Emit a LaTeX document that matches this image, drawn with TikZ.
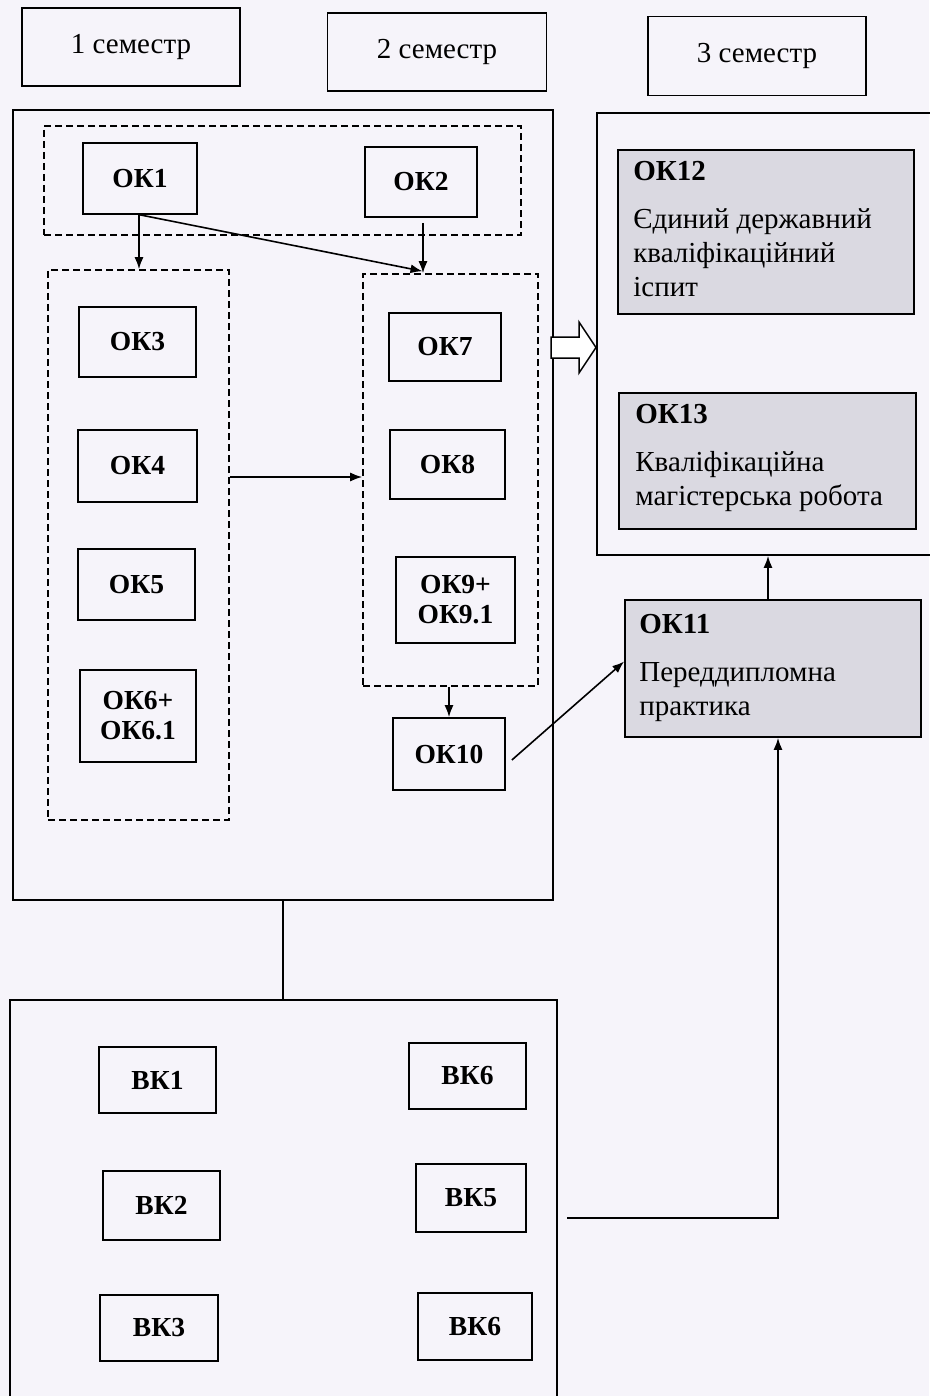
\documentclass[tikz,border=0pt]{standalone}
\usepackage{fontspec}
\setmainfont{Liberation Serif}
\usetikzlibrary{arrows.meta}
\definecolor{bgc}{HTML}{F6F4FA}
\definecolor{boxgray}{HTML}{DAD9E1}
\tikzset{
  box/.style={draw, line width=1.7pt, inner sep=0pt, align=center},
  okbox/.style={box, font=\bfseries\fontsize{27.5}{30}\selectfont},
  sem/.style={box, font=\fontsize{29}{32}\selectfont},
  frame/.style={draw, line width=1.7pt, inner sep=0pt},
  grp/.style={draw, line width=1.6pt, dash pattern=on 7pt off 4pt, inner sep=0pt},
  graybox/.style={draw, line width=1.7pt, fill=boxgray, inner sep=0pt},
  gtext/.style={anchor=north west, align=left, inner sep=0pt, font=\fontsize{29}{34}\selectfont},
  arr/.style={line width=1.6pt, -{Latex[length=12pt,width=9pt]}},
  conn/.style={line width=1.6pt}
}
\begin{document}
\begin{tikzpicture}[x=1pt,y=-1pt]
\useasboundingbox (0,0) rectangle (929,1396);
\fill[bgc] (0,0) rectangle (929,1396);

% semester headers
\node[sem, minimum width=218pt, minimum height=78pt] (s1) at (131,47) {1 семестр};
\node[sem, minimum width=219pt, minimum height=78pt] (s2) at (437,52) {2 семестр};
\node[sem, minimum width=218pt, minimum height=79pt] (s3) at (757,56) {3 семестр};

% frames
\node[frame, minimum width=540pt, minimum height=790pt] (okframe) at (283,505) {};
\node[frame, minimum width=340pt, minimum height=442pt] (rframe) at (767,334) {};
\node[frame, minimum width=547pt, minimum height=430pt] (vkframe) at (283.5,1215) {};

% dashed groups
\node[grp, minimum width=477pt, minimum height=109pt] (g1) at (282.5,180.5) {};
\node[grp, minimum width=181pt, minimum height=550pt] (g2) at (138.5,545) {};
\node[grp, minimum width=175pt, minimum height=412pt] (g3) at (450.5,480) {};

% OK boxes
\node[okbox, minimum width=114pt, minimum height=71pt] (ok1) at (140,178.5) {ОК1};
\node[okbox, minimum width=112pt, minimum height=70pt] (ok2) at (421,182) {ОК2};
\node[okbox, minimum width=117pt, minimum height=70pt] (ok3) at (137.5,342) {ОК3};
\node[okbox, minimum width=119pt, minimum height=72pt] (ok4) at (137.5,466) {ОК4};
\node[okbox, minimum width=117pt, minimum height=71pt] (ok5) at (136.5,584.5) {ОК5};
\node[okbox, minimum width=116pt, minimum height=92pt] (ok6) at (138,716) {ОК6+\\ОК6.1};
\node[okbox, minimum width=112pt, minimum height=68pt] (ok7) at (445,347) {ОК7};
\node[okbox, minimum width=115pt, minimum height=69pt] (ok8) at (447.5,464.5) {ОК8};
\node[okbox, minimum width=119pt, minimum height=86pt] (ok9) at (455.5,600) {ОК9+\\ОК9.1};
\node[okbox, minimum width=112pt, minimum height=72pt] (ok10) at (449,754) {ОК10};

% gray boxes
\node[graybox, minimum width=296pt, minimum height=164pt] (ok12) at (766,232) {};
\node[gtext] at ([xshift=16pt,yshift=-12pt]ok12.north west) {\textbf{ОК12}\\[14pt]Єдиний державний\\кваліфікаційний\\іспит};
\node[graybox, minimum width=297pt, minimum height=136pt] (ok13) at (767.5,461) {};
\node[gtext] at ([xshift=17pt,yshift=-12pt]ok13.north west) {\textbf{ОК13}\\[14pt]Кваліфікаційна\\магістерська робота};
\node[graybox, minimum width=296pt, minimum height=137pt] (ok11) at (773,668.5) {};
\node[gtext] at ([xshift=15pt,yshift=-15pt]ok11.north west) {\textbf{ОК11}\\[14pt]Переддипломна\\практика};

% VK boxes
\node[okbox, minimum width=117pt, minimum height=66pt] (vk1) at (157.5,1080) {ВК1};
\node[okbox, minimum width=117pt, minimum height=66pt] (vk6a) at (467.5,1076) {ВК6};
\node[okbox, minimum width=117pt, minimum height=69pt] (vk2) at (161.5,1205.5) {ВК2};
\node[okbox, minimum width=110pt, minimum height=68pt] (vk5) at (471,1198) {ВК5};
\node[okbox, minimum width=118pt, minimum height=66pt] (vk3) at (159,1328) {ВК3};
\node[okbox, minimum width=114pt, minimum height=67pt] (vk6b) at (475,1326.5) {ВК6};

% connectors
\draw[arr] ([xshift=-1pt]ok1.south) -- ([xshift=-1pt]ok1.south |- g2.north);
\draw[arr] (ok1.south) -- ([xshift=-28pt,yshift=2pt]g3.north);
\coordinate (ok2in) at (ok2.south |- g3.north);
\draw[arr] ([xshift=2pt,yshift=-5pt]ok2.south) -- ([xshift=2pt]ok2in);
\draw[arr] (g2.east |- 0,477) -- (g3.west |- 0,477);
\draw[arr] (g3.south -| ok10.north) -- (ok10.north);
\draw[arr] ([xshift=6pt,yshift=-6pt]ok10.east) -- ([yshift=7pt]ok11.west);
\draw[arr] ([xshift=-5pt]ok11.north) -- ([xshift=-5pt]ok11.north |- rframe.south);
\draw[conn] (okframe.south) -- (okframe.south |- vkframe.north);
\coordinate (vkout) at (567,1218);
\draw[arr] (vkout) -| ([xshift=5pt]ok11.south);

% hollow block arrow
\draw[line width=1.5pt, fill=white, line join=miter]
  (551,337) -- (579,337) -- (579,322) -- (596,347.5) -- (579,373) -- (579,358) -- (551,358) -- cycle;
\end{tikzpicture}
\end{document}
